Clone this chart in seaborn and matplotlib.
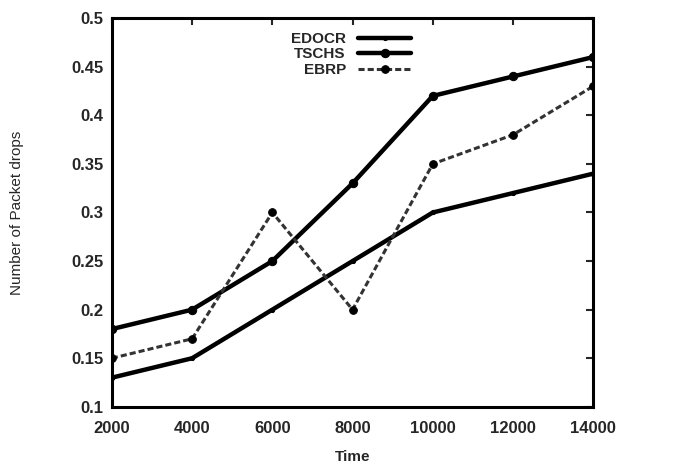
import matplotlib
matplotlib.use("Agg")
import matplotlib.pyplot as plt
import seaborn as sns
import pandas as pd

time = [2000, 4000, 6000, 8000, 10000, 12000, 14000]
edocr = [0.13, 0.15, 0.20, 0.25, 0.30, 0.32, 0.34]
tschs = [0.18, 0.20, 0.25, 0.33, 0.42, 0.44, 0.46]
ebrp = [0.15, 0.17, 0.30, 0.20, 0.35, 0.38, 0.43]
xticks = [2000, 4000, 6000, 8000, 10000, 12000, 14000]
yticks = [0.1, 0.15, 0.2, 0.25, 0.3, 0.35, 0.4, 0.45, 0.5]

sns.set_style("white")
plt.rcParams['font.family'] = ['Liberation Sans', 'DejaVu Sans']
plt.rcParams['font.weight'] = 'bold'

fig = plt.figure(figsize=(6.78, 4.66), dpi=100)
ax = fig.add_axes([0.165, 0.127, 0.71, 0.834])

df = pd.DataFrame({"Time": time, "EDOCR": edocr, "TSCHS": tschs, "EBRP": ebrp})

sns.lineplot(data=df, x="Time", y="EDOCR", ax=ax, color="black", lw=3.2,
             marker="o", markersize=3, markeredgecolor="black", label="EDOCR")
sns.lineplot(data=df, x="Time", y="TSCHS", ax=ax, color="black", lw=3.2,
             marker="o", markersize=6, markeredgecolor="black", label="TSCHS")
sns.lineplot(data=df, x="Time", y="EBRP", ax=ax, color="#333333", lw=2.2,
             linestyle=(0, (2, 1)), marker="o", markersize=5.5,
             markerfacecolor="black", markeredgecolor="black", label="EBRP")

ax.set_xlim(2000, 14000)
ax.set_ylim(0.1, 0.5)
ax.set_xticks(xticks)
ax.set_yticks(yticks)
ax.set_xticklabels([str(v) for v in xticks])
ax.set_yticklabels([f"{v:g}" for v in yticks])
ax.tick_params(direction="in", length=5, width=1.5, top=True, right=True,
               labelsize=12, pad=6)
ax.tick_params(axis="x", pad=10)
for lab in ax.get_xticklabels() + ax.get_yticklabels():
    lab.set_fontweight("bold")
for s in ax.spines.values():
    s.set_linewidth(2.2)
    s.set_color("black")

ax.set_xlabel("Time", fontsize=11, fontweight="bold", labelpad=10)
ax.set_ylabel("Number of Packet drops", fontsize=11, fontweight="normal", labelpad=34)

leg = ax.legend(loc="upper center", bbox_to_anchor=(0.497, 1.0), frameon=False,
                markerfirst=False, fontsize=11, handlelength=3.5,
                labelspacing=0.1, handletextpad=0.8)
for t in leg.get_texts():
    t.set_fontweight("bold")
    t.set_ha("right")

fig.savefig("out.png", dpi=100)
